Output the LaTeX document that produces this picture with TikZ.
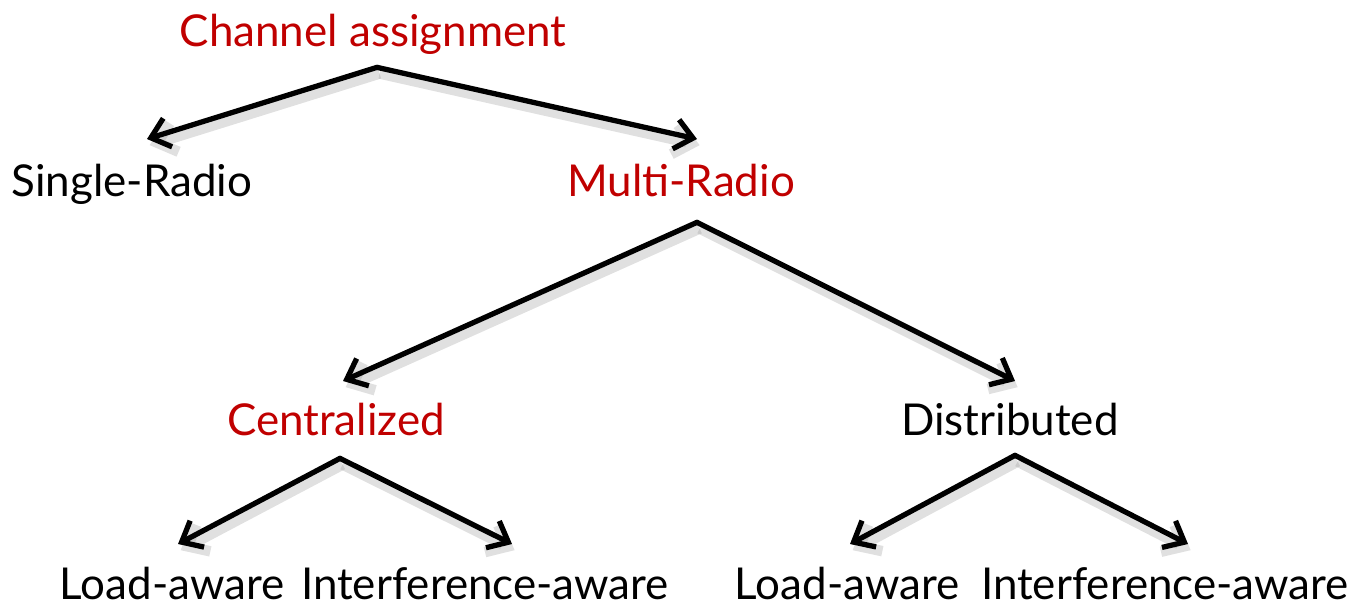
\documentclass[tikz,border=0pt]{standalone}
\usepackage{fontspec}
\setmainfont{Lato}
\usepackage{xcolor}
\usepackage{tikz}
\usetikzlibrary{arrows.meta, positioning, calc}
\definecolor{hlred}{RGB}{192,0,0}

\begin{document}
\begin{tikzpicture}[
  x=0.02cm, y=-0.02cm,
  label/.style={inner sep=0pt, anchor=base, text height=18pt, text depth=0pt,
                font=\fontsize{25}{30}\selectfont},
  hot/.style={label, text=hlred},
  arrow/.style={-{Straight Barb[length=10pt, width=17pt]}, line width=3pt,
                line cap=round, line join=round,
                preaction={draw=black!40, line width=6pt, opacity=0.3,
                           transform canvas={shift={(1.5pt,-3.5pt)}}}}
]
  \useasboundingbox (0,0) rectangle (1365,607);
  % 第一层
  \node[hot] (chan) at (373,47) {Channel assignment};
  \node[label] (single) at (132,197) {Single-Radio};
  \node[hot] (multi) at (681,197) {Multi-Radio};
  % 第二层
  \node[hot] (central) at (336,436) {Centralized};
  \node[label] (distr) at (1010,436) {Distributed};
  % 第三层
  \node[label] (cload) at (172,599) {Load-aware};
  \node[label] (cintf) at (485,599) {Interference-aware};
  \node[label] (dload) at (847,599) {Load-aware};
  \node[label] (dintf) at (1165,599) {Interference-aware};
  % 分叉点
  \coordinate (chan-fork) at ($(chan.south)+(4,20)$);
  \coordinate (multi-fork) at ($(multi.south)+(16,25)$);
  \coordinate (central-fork) at ($(central.south)+(4,22)$);
  \coordinate (distr-fork) at ($(distr.south)+(5,19)$);
  % 箭头
  \draw[arrow] (chan-fork) -- ($(single.north)+(15,-26)$);
  \draw[arrow] (chan-fork) -- ($(multi.north)+(16,-26)$);
  \draw[arrow] (multi-fork) -- ($(central.north)+(7,-23)$);
  \draw[arrow] (multi-fork) -- ($(distr.north)+(5,-23)$);
  \draw[arrow] (central-fork) -- ($(cload.north)+(6,-23)$);
  \draw[arrow] (central-fork) -- ($(cintf.north)+(27,-23)$);
  \draw[arrow] (distr-fork) -- ($(dload.north)+(3,-23)$);
  \draw[arrow] (distr-fork) -- ($(dintf.north)+(23,-23)$);
\end{tikzpicture}
\end{document}
